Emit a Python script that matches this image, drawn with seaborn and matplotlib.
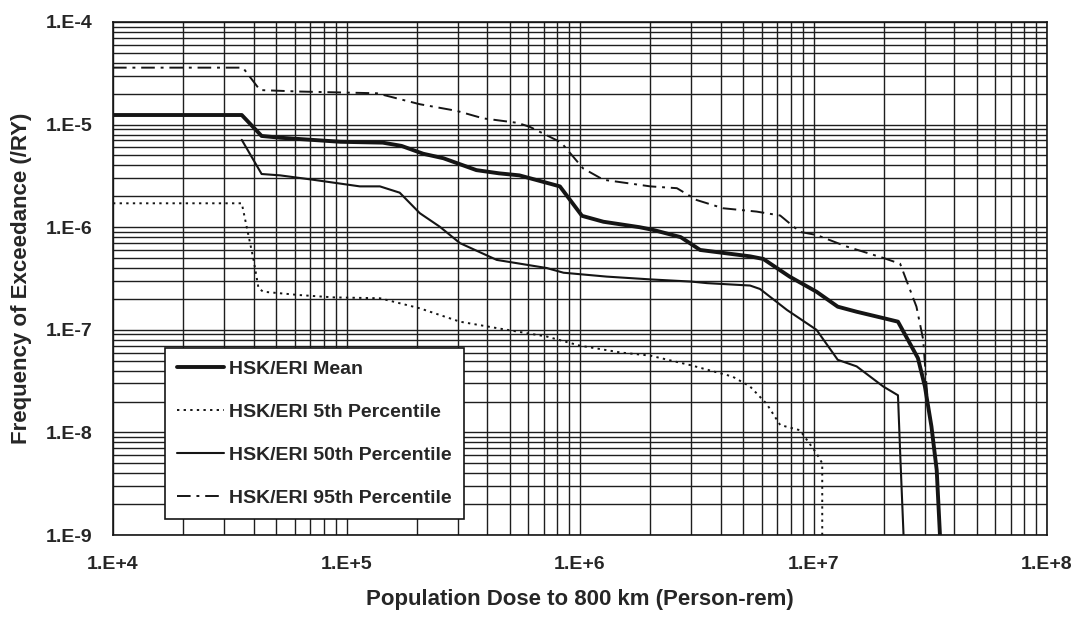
import numpy as np
import pandas as pd
import matplotlib
matplotlib.use("Agg")
import matplotlib.pyplot as plt
import seaborn as sns
from matplotlib.ticker import FixedLocator, NullFormatter, LogLocator

# ---------------- data ----------------
mean_x = [1e4, 3.56e4, 4.33e4, 5.2e4, 9.4e4, 1.43e5, 1.72e5, 2.13e5, 2.6e5, 3.6e5, 4.5e5,
          5.5e5, 8.2e5, 1.02e6, 1.26e6, 1.8e6, 2.06e6, 2.7e6, 3.27e6, 5.35e6, 6.1e6, 7.9e6,
          1.03e7, 1.27e7, 1.53e7, 1.99e7, 2.3e7, 2.8e7, 3.0e7, 3.2e7, 3.37e7, 3.48e7]
mean_y = [1.24e-5, 1.24e-5, 7.75e-6, 7.45e-6, 6.8e-6, 6.67e-6, 6.2e-6, 5.2e-6, 4.7e-6, 3.6e-6, 3.35e-6,
          3.2e-6, 2.5e-6, 1.29e-6, 1.13e-6, 1.0e-6, 9.4e-7, 8.0e-7, 6.0e-7, 5.2e-7, 4.9e-7, 3.3e-7,
          2.35e-7, 1.68e-7, 1.5e-7, 1.3e-7, 1.2e-7, 5.3e-8, 2.8e-8, 1.14e-8, 4.3e-9, 1e-9]

p5_x = [1e4, 3.56e4, 4.0e4, 4.2e4, 4.4e4, 6.3e4, 8.8e4, 1.39e5, 2.06e5, 3.06e5, 4.5e5, 7.2e5,
        1.0e6, 1.5e6, 2.0e6, 3.0e6, 4.5e6, 5.35e6, 6.3e6, 7.2e6, 8.75e6, 1.03e7, 1.09e7, 1.09e7]
p5_y = [1.71e-6, 1.71e-6, 4.8e-7, 2.54e-7, 2.35e-7, 2.18e-7, 2.07e-7, 2.03e-7, 1.62e-7, 1.2e-7, 1.03e-7, 8.6e-8,
        7.0e-8, 6.0e-8, 5.6e-8, 4.5e-8, 3.5e-8, 2.8e-8, 1.9e-8, 1.18e-8, 1.05e-8, 6.25e-9, 5.0e-9, 1e-9]

p50_x = [3.56e4, 4.33e4, 5.2e4, 7.2e4, 1.14e5, 1.39e5, 1.69e5, 2.06e5, 2.51e5, 3.06e5, 4.4e5, 7.2e5,
         8.5e5, 1.3e6, 2.0e6, 3.0e6, 3.5e6, 5.35e6, 5.9e6, 7.7e6, 1.03e7, 1.27e7, 1.53e7, 1.99e7,
         2.3e7, 2.36e7, 2.43e7]
p50_y = [7.1e-6, 3.3e-6, 3.2e-6, 2.9e-6, 2.5e-6, 2.5e-6, 2.17e-6, 1.37e-6, 1.01e-6, 7.0e-7, 4.8e-7, 4.0e-7,
         3.6e-7, 3.3e-7, 3.1e-7, 2.95e-7, 2.85e-7, 2.7e-7, 2.5e-7, 1.56e-7, 1.0e-7, 5.1e-8, 4.4e-8, 2.8e-8,
         2.3e-8, 5e-9, 1e-9]

p95_x = [1e4, 3.6e4, 4.26e4, 6.3e4, 1.35e5, 2.06e5, 2.97e5, 3.85e5, 5.4e5, 6.1e5, 8.3e5, 1.03e6,
         1.26e6, 2.0e6, 2.6e6, 3.16e6, 4.1e6, 5.7e6, 7.2e6, 8.75e6, 1.03e7, 1.38e7, 2.0e7, 2.35e7,
         2.76e7, 2.95e7, 3.05e7, 3.1e7]
p95_y = [3.59e-5, 3.59e-5, 2.17e-5, 2.1e-5, 2.02e-5, 1.58e-5, 1.36e-5, 1.15e-5, 1.04e-5, 9.5e-6, 6.7e-6, 3.75e-6,
         2.9e-6, 2.5e-6, 2.4e-6, 1.84e-6, 1.53e-6, 1.42e-6, 1.3e-6, 9.0e-7, 8.4e-7, 6.5e-7, 5.0e-7, 4.4e-7,
         1.68e-7, 8.0e-8, 2.8e-8, 1.8e-8]

series_names = ["HSK/ERI Mean", "HSK/ERI 5th Percentile", "HSK/ERI 50th Percentile", "HSK/ERI 95th Percentile"]
x_ticks = [1e4, 1e5, 1e6, 1e7, 1e8]
x_tick_labels = ["1.E+4", "1.E+5", "1.E+6", "1.E+7", "1.E+8"]
y_ticks = [1e-9, 1e-8, 1e-7, 1e-6, 1e-5, 1e-4]
y_tick_labels = ["1.E-9", "1.E-8", "1.E-7", "1.E-6", "1.E-5", "1.E-4"]

# ---------------- figure ----------------
sns.set_theme(style="white")
plt.rcParams["font.family"] = ["Liberation Sans", "DejaVu Sans"]
plt.rcParams["font.weight"] = "bold"

fig = plt.figure(figsize=(10.76, 6.19), dpi=100)
ax = fig.add_axes([113 / 1076, 1 - 535 / 619, (1047 - 113) / 1076, (535 - 22) / 619])

ink = "#151515"
styles = [
    dict(x=mean_x, y=mean_y, lw=2.8, ls="-"),
    dict(x=p5_x, y=p5_y, lw=1.4, ls=(0, (1.2, 2.2))),
    dict(x=p50_x, y=p50_y, lw=1.5, ls="-"),
    dict(x=p95_x, y=p95_y, lw=1.4, ls=(0, (7, 3, 1.5, 3))),
]
for name, st in zip(series_names, styles):
    df = pd.DataFrame({"x": st["x"], "y": st["y"]})
    sns.lineplot(data=df, x="x", y="y", ax=ax, sort=False, estimator=None,
                 color=ink, linewidth=st["lw"], linestyle=st["ls"], label=name, zorder=3)

ax.set_xscale("log")
ax.set_yscale("log")
ax.set_xlim(1e4, 1e8)
ax.set_ylim(1e-9, 1e-4)

# grid: every major and minor decade line
ax.xaxis.set_minor_locator(LogLocator(base=10, subs=np.arange(2, 10)))
ax.yaxis.set_minor_locator(LogLocator(base=10, subs=np.arange(2, 10)))
ax.xaxis.set_minor_formatter(NullFormatter())
ax.yaxis.set_minor_formatter(NullFormatter())
ax.grid(True, which="both", color="#1e1e1e", linewidth=1.0, zorder=0)
ax.set_axisbelow(True)

ax.xaxis.set_major_locator(FixedLocator(x_ticks))
ax.yaxis.set_major_locator(FixedLocator(y_ticks))
ax.set_xticklabels(x_tick_labels, fontsize=14, fontweight="bold")
ax.set_yticklabels(y_tick_labels, fontsize=14, fontweight="bold")
ax.tick_params(axis="both", which="major", direction="out", length=6, width=1, color=ink, pad=9)
ax.tick_params(axis="both", which="minor", length=0)

for sp in ax.spines.values():
    sp.set_color(ink)
    sp.set_linewidth(1.2)

ax.set_xlabel("Population Dose to 800 km (Person-rem)", fontsize=16, fontweight="bold", labelpad=12)
ax.set_ylabel("Frequency of Exceedance (/RY)", fontsize=16, fontweight="bold", labelpad=10)

leg = ax.legend(loc="lower left", bbox_to_anchor=((165 - 113) / 934, (535 - 519) / 513),
                frameon=True, fancybox=False, framealpha=1, edgecolor=ink,
                prop={"weight": "bold", "size": 14}, handlelength=2.4, labelspacing=1.31,
                borderpad=0.63, handletextpad=0.25, borderaxespad=0)
leg.get_frame().set_linewidth(1.2)
leg.set_zorder(5)

fig.savefig("out.png", dpi=100, facecolor="white")
